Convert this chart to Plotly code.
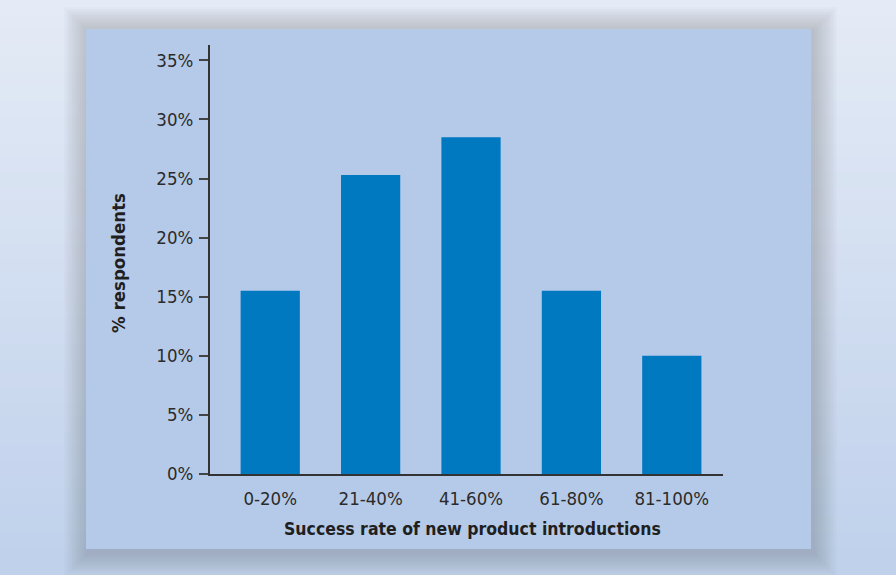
import plotly.graph_objects as go

categories = ["0-20%", "21-40%", "41-60%", "61-80%", "81-100%"]
respondents_pct = [15.5, 25.3, 28.5, 15.5, 10.0]
y_tickvals = [0, 5, 10, 15, 20, 25, 30, 35]
y_ticktext = ["0%", "5%", "10%", "15%", "20%", "25%", "30%", "35%"]

W, H = 896, 575
L, R, T, B = 210, 896 - 723, 45, 575 - 474
pw, ph = W - L - R, H - T - B

def px_x(x):
    return (x - L) / pw

def px_y(y):
    return (H - B - y) / ph

FONT = "Liberation Sans Narrow, DejaVu Sans Condensed, Arial Narrow, sans-serif"
TXT = "#2b2b2b"

shapes = []
# background vertical gradient
top = (228, 235, 246)
bot = (192, 209, 236)
n = 40
for i in range(n):
    t = i / (n - 1)
    c = tuple(int(top[k] + (bot[k] - top[k]) * t) for k in range(3))
    y0 = H * i / n
    y1 = H * (i + 1) / n + 1
    shapes.append(dict(type="rect", xref="paper", yref="paper", layer="below",
                       x0=px_x(-5), x1=px_x(W + 5), y0=px_y(y1), y1=px_y(y0),
                       fillcolor="rgb(%d,%d,%d)" % c, line=dict(width=0)))
# drop shadow
px0, px1, py0, py1 = 86, 811, 29, 549
for i in range(12, 0, -1):
    g = i * 2.0
    shapes.append(dict(type="rect", xref="paper", yref="paper", layer="below",
                       x0=px_x(px0 - g + 2), x1=px_x(px1 + g + 2),
                       y0=px_y(py1 + g + 4), y1=px_y(py0 - g + 2),
                       fillcolor="rgba(70,80,100,0.022)", line=dict(width=0)))
# panel
shapes.append(dict(type="rect", xref="paper", yref="paper", layer="below",
                   x0=px_x(px0), x1=px_x(px1), y0=px_y(py1), y1=px_y(py0),
                   fillcolor="#b5cae8", line=dict(width=0)))

fig = go.Figure(go.Bar(x=categories, y=respondents_pct, marker=dict(color="#0079c1", line=dict(width=0)),
                       width=0.59, hoverinfo="skip"))

fig.update_layout(
    width=W, height=H,
    margin=dict(l=L, r=R, t=T, b=B, pad=0),
    paper_bgcolor="#c8d7ee", plot_bgcolor="rgba(0,0,0,0)",
    shapes=shapes,
    showlegend=False,
    font=dict(family=FONT, color=TXT),
    annotations=[
        dict(text="<b>Success rate of new product introductions</b>", xref="paper", yref="paper",
             x=px_x(472), y=px_y(529), xanchor="center", yanchor="middle", showarrow=False,
             font=dict(family=FONT, size=17.5, color="#1f1f1f")),
        dict(text="<b>% respondents</b>", xref="paper", yref="paper", textangle=-90,
             x=px_x(118), y=px_y(263), xanchor="center", yanchor="middle", showarrow=False,
             font=dict(family=FONT, size=18.5, color="#1f1f1f")),
    ],
)
fig.update_xaxes(range=[-0.6, 4.51], showline=True, linecolor="#333333", linewidth=2,
                 ticks="", showgrid=False, zeroline=False, fixedrange=True,
                 tickfont=dict(family=FONT, size=18.5, color=TXT), ticklabelstandoff=7)
fig.update_yaxes(range=[0, 36.3], showline=True, linecolor="#333333", linewidth=2,
                 tickvals=y_tickvals, ticktext=y_ticktext,
                 ticks="outside", ticklen=9, tickwidth=2, tickcolor="#444444",
                 showgrid=False, zeroline=False, fixedrange=True,
                 tickfont=dict(family=FONT, size=18.5, color=TXT), ticklabelstandoff=2)

fig.write_html("out.html")
